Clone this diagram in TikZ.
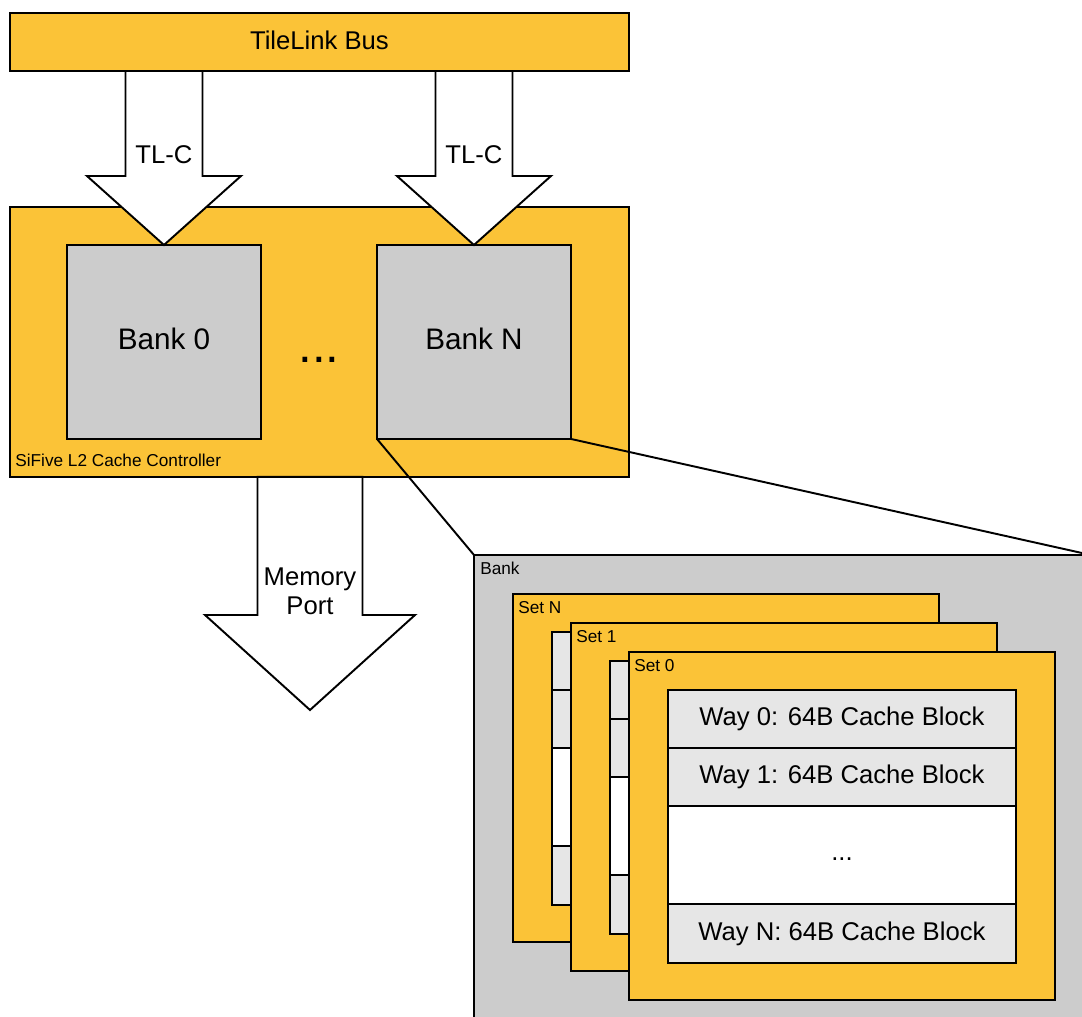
\documentclass[tikz,border=0pt]{standalone}
\usepackage{fontspec}
\setmainfont{Liberation Sans}
\usetikzlibrary{calc}

\definecolor{busyellow}{RGB}{251,195,55}
\definecolor{bankgray}{RGB}{204,204,204}
\definecolor{waygray}{RGB}{230,230,230}

\tikzset{
  box/.style={draw, line width=1.1pt, inner sep=0pt, outer sep=0pt, anchor=north west},
  yellowbox/.style={box, fill=busyellow},
  graybox/.style={box, fill=bankgray},
  bankbox/.style={graybox, minimum size=3.88cm, text depth=4pt, font=\fontsize{16.9pt}{20pt}\selectfont},
  wayrow/.style={box, fill=waygray, minimum width=6.96cm, minimum height=1.16cm},
  fatarrow/.style={draw, line width=1.1pt, fill=white},
  bigtxt/.style={font=\fontsize{14.6pt}{16.5pt}\selectfont},
  smalltxt/.style={font=\fontsize{9.8pt}{11pt}\selectfont, inner sep=0pt, anchor=base west},
}

\begin{document}
\begin{tikzpicture}[x=0.02cm, y=-0.02cm]
  \useasboundingbox (0,0) rectangle (1082,1017);
  \clip (0,0) rectangle (1082,1017);
  % bus and controller
  \node[yellowbox, bigtxt, text depth=2pt, minimum width=12.38cm, minimum height=1.16cm] (bus) at (10,13) {TileLink Bus};
  \node[yellowbox, minimum width=12.38cm, minimum height=5.4cm] (ctrl) at (10,207) {};
  \node[smalltxt] at ($(ctrl.south west)+(5,-10)$) {SiFive L2 Cache Controller};
  \node[bankbox] (bank0) at (67,245) {Bank 0};
  \node[bankbox] (bankN) at (377,245) {Bank N};
  \node[anchor=base, inner sep=0pt, font=\fontsize{28pt}{30pt}\selectfont] (dots) at ($(bank0.east)!.5!(bankN.west)+(0,21)$) {...};

  % TL-C arrows
  \foreach \b in {bank0,bankN} {
    \draw[fatarrow] ($(bus.south -| \b.north)+(-38.5,0)$) -- ($(\b.north)+(-38.5,-69)$) -- ++(-38.5,0)
      -- (\b.north) -- ++(77,-69) -- ++(-38.5,0) -- ($(bus.south -| \b.north)+(38.5,0)$) -- cycle;
    \node[bigtxt] at ($(\b.north)+(0,-90)$) {TL-C};
  }

  % memory port
  \coordinate (memtip) at (310,710);
  \draw[fatarrow] ($(ctrl.south -| memtip)+(-52.5,0)$) -- ($(memtip)+(-52.5,-95)$) -- ++(-52.5,0)
    -- (memtip) -- ++(105,-95) -- ++(-52.5,0) -- ($(ctrl.south -| memtip)+(52.5,0)$) -- cycle;
  \node[bigtxt, align=center] at ($(memtip)+(0,-119)$) {Memory\\Port};

  % zoomed bank
  \node[graybox, minimum width=12.34cm, minimum height=12cm] (bank) at (474,555) {};
  \node[smalltxt] at ($(bank.north west)+(6,19)$) {Bank};
  \foreach \s/\x/\y in {N/513/594,1/571/623,0/629/652} {
    \node[yellowbox, minimum width=8.52cm, minimum height=6.96cm] (set\s) at (\x,\y) {};
    \node[smalltxt] at ($(set\s.north west)+(5,19)$) {Set \s};
    \node[wayrow] (wayA\s) at ($(set\s.north west)+(39,38)$) {};
    \node[wayrow] (wayB\s) at (wayA\s.south west) {};
    \node[wayrow, fill=white, minimum height=1.96cm] (wayC\s) at (wayB\s.south west) {};
    \node[wayrow, minimum height=1.18cm] (wayD\s) at (wayC\s.south west) {};
  }
  \node[bigtxt] at (wayA0) {Way 0: 64B Cache Block};
  \node[bigtxt] at (wayB0) {Way 1: 64B Cache Block};
  \node[bigtxt] at ($(wayC0)+(0,4)$) {...};
  \node[bigtxt] at (wayD0) {Way N: 64B Cache Block};

  \draw[line width=1.1pt] (bankN.south west) -- (bank.north west);
  \draw[line width=1.1pt] (bankN.south east) -- (bank.north east);
\end{tikzpicture}
\end{document}
